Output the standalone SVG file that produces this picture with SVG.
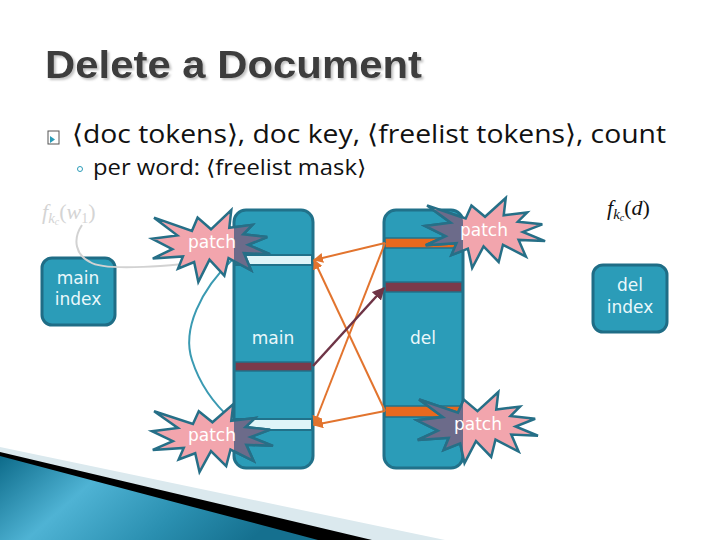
<svg xmlns="http://www.w3.org/2000/svg" xmlns:xlink="http://www.w3.org/1999/xlink" width="720" height="540" viewBox="0 0 720 540">
<style>
.col{fill:#2b9cb8;stroke:#21718a;stroke-width:3}
.box{fill:#2b9cb8;stroke:#1f6d86;stroke-width:3}
.lbl{font-family:"DejaVu Sans",sans-serif;font-size:17px;fill:#eaf8fb;text-anchor:middle}
.patch{font-family:"DejaVu Sans",sans-serif;font-size:17px;fill:#ffffff;text-anchor:middle}
.cyan{fill:#dff4f8;stroke:#21718a;stroke-width:2}
.maroon{fill:#7b3a4a;stroke:#21718a;stroke-width:1.5}
.orange{fill:#e8691e;stroke:#21718a;stroke-width:1.5}
.ol{stroke:#e2742e;stroke-width:2;fill:none;marker-end:url(#ao)}
.math{font-family:"Liberation Serif",serif;font-style:italic}
.body{font-family:"Open Sans","Liberation Sans",sans-serif;fill:#111}
</style>
<defs>
<path id="seal" vector-effect="non-scaling-stroke" d="M108,58 L145.22,0 L141.55,53.25 L183.8,44.57 L167.02,73.15 L210.97,81.37 L176.07,104.75 L216,132.9 L168.37,129.42 L181.45,180.95 L140.2,144.57 L132.47,197.37 L105.32,149.35 L84.85,216 L77.15,156.27 L47.62,176.17 L56.67,139.37 L1.35,145.87 L37.22,117.75 L0,86.15 L46.27,76.17 L3.7,22.95 L73.12,63.2 L83.52,22.95 Z"/>
<clipPath id="cm"><rect x="234" y="210" width="79" height="258" rx="12"/></clipPath>
<clipPath id="cd"><rect x="384" y="210" width="79" height="258" rx="12"/></clipPath>
<filter id="sh" x="-5%" y="-20%" width="110%" height="140%"><feDropShadow dx="2" dy="2" stdDeviation="0.8" flood-color="#9a9a9a" flood-opacity="0.6"/></filter>
<marker id="ao" viewBox="0 0 10 10" refX="9" refY="5" markerWidth="5" markerHeight="5" orient="auto"><path d="M0,0 L10,5 L0,10 Z" fill="#e2742e"/></marker>
<marker id="am" viewBox="0 0 10 10" refX="9" refY="5" markerWidth="5" markerHeight="5" orient="auto"><path d="M0,0 L10,5 L0,10 Z" fill="#6e3446"/></marker>
<marker id="at" viewBox="0 0 10 10" refX="9" refY="5" markerWidth="4" markerHeight="4" orient="auto"><path d="M0,0 L10,5 L0,10 Z" fill="#3a9ab2"/></marker>
<linearGradient id="tg" x1="0" y1="0" x2="1" y2="0.3">
<stop offset="0" stop-color="#0d6b8a"/>
<stop offset="0.35" stop-color="#4fb3d4"/>
<stop offset="0.7" stop-color="#2a8fb0"/>
<stop offset="1" stop-color="#15708f"/>
</linearGradient>
</defs>
<rect width="720" height="540" fill="#ffffff"/>
<g id="decor">
<polygon points="0,447 445,540 0,540" fill="#dbe9ee"/>
<polygon points="0,452 372,540 0,540" fill="#000000"/>
<polygon points="0,456 318,540 0,540" fill="url(#tg)"/>
</g>
<g id="title">
<text x="45" y="78" font-family="'Liberation Sans Narrow','Liberation Sans',sans-serif" font-weight="bold" font-size="38" fill="#3c3c3c" textLength="377" lengthAdjust="spacingAndGlyphs" filter="url(#sh)">Delete a Document</text>
</g>
<g id="bullets">
<rect x="48" y="131" width="11" height="13" fill="none" stroke="#555" stroke-width="1"/>
<polygon points="50,136 55,139.5 50,143" fill="#2b9cb8"/>
<text class="body" x="72" y="143" font-size="26" textLength="594" lengthAdjust="spacingAndGlyphs">⟨doc tokens⟩, doc key, ⟨freelist tokens⟩, count</text>
<circle cx="80" cy="169" r="2.5" fill="none" stroke="#2b9cb8" stroke-width="1"/>
<text class="body" x="93" y="175" font-size="21" textLength="273" lengthAdjust="spacingAndGlyphs">per word: ⟨freelist mask⟩</text>
</g>
<g id="fw1" fill="#d4d4d4">
<text class="math" x="42" y="219" font-size="22">f<tspan font-size="15" dy="4">k</tspan><tspan font-size="10" dy="2">c</tspan><tspan font-size="22" dy="-6" font-style="normal">(</tspan>w<tspan font-size="14" dy="4" font-style="normal">1</tspan><tspan font-size="22" dy="-4" font-style="normal">)</tspan></text>
</g>
<g id="fd" fill="#111">
<text class="math" x="607" y="215" font-size="22">f<tspan font-size="15" dy="4">k</tspan><tspan font-size="10" dy="2">c</tspan><tspan font-size="22" dy="-6" font-style="normal">(</tspan>d<tspan font-size="22" font-style="normal">)</tspan></text>
</g>
<g id="main-index">
<rect class="box" x="42" y="258" width="73" height="67" rx="10"/>
<text class="lbl" x="78" y="284">main</text>
<text class="lbl" x="78" y="305">index</text>
</g>
<g id="del-index">
<rect class="box" x="593" y="265" width="74" height="67" rx="10"/>
<text class="lbl" x="630" y="291">del</text>
<text class="lbl" x="630" y="313">index</text>
</g>
<g id="main">
<rect class="col" x="234" y="210" width="79" height="258" rx="12"/>
<rect class="cyan" x="235" y="255" width="77" height="10"/>
<rect class="maroon" x="235" y="362" width="77" height="9"/>
<rect class="cyan" x="235" y="419" width="77" height="11"/>
<text class="lbl" x="273" y="344">main</text>
</g>
<g id="del">
<rect class="col" x="384" y="210" width="79" height="258" rx="12"/>
<rect class="orange" x="385" y="238" width="77" height="10"/>
<rect class="maroon" x="385" y="282" width="77" height="10"/>
<rect class="orange" x="385" y="406" width="77" height="11"/>
<text class="lbl" x="423" y="344">del</text>
</g>
<g id="connectors">
<path d="M82,225 C72,240 76,255 90,262 C105,272 170,266 232,259" fill="none" stroke="#d2d2d2" stroke-width="2"/>
<path d="M233,259 C200,290 182,330 192,360 C200,385 215,405 232,420" fill="none" stroke="#3a9ab2" stroke-width="2" marker-end="url(#at)"/>
<line class="ol" x1="385" y1="243" x2="314" y2="260"/>
<line class="ol" x1="385" y1="243" x2="314" y2="425"/>
<line class="ol" x1="385" y1="411" x2="314" y2="425"/>
<line class="ol" x1="385" y1="411" x2="314" y2="260"/>
<line x1="313" y1="366" x2="384" y2="288" stroke="#6e3446" stroke-width="2.5" marker-end="url(#am)"/>
</g>
<g id="patch-tl">
<use href="#seal" transform="translate(152,210) scale(0.546,0.333)" fill="#f2a5ad" stroke="#266f87" stroke-width="2.5"/>
<g clip-path="url(#cm)"><use href="#seal" transform="translate(152,210) scale(0.546,0.333)" fill="#6c6b8a" stroke="#266f87" stroke-width="2.5"/></g>
<text class="patch" x="212" y="248">patch</text>
</g>
<g id="patch-tr">
<use href="#seal" transform="translate(425,198) scale(0.556,0.324)" fill="#f2a5ad" stroke="#266f87" stroke-width="2.5"/>
<g clip-path="url(#cd)"><use href="#seal" transform="translate(425,198) scale(0.556,0.324)" fill="#6c6b8a" stroke="#266f87" stroke-width="2.5"/></g>
<text class="patch" x="484" y="236">patch</text>
</g>
<g id="patch-bl">
<use href="#seal" transform="translate(152,404) scale(0.560,0.315)" fill="#f2a5ad" stroke="#266f87" stroke-width="2.5"/>
<g clip-path="url(#cm)"><use href="#seal" transform="translate(152,404) scale(0.560,0.315)" fill="#6c6b8a" stroke="#266f87" stroke-width="2.5"/></g>
<text class="patch" x="212" y="441">patch</text>
</g>
<g id="patch-br">
<use href="#seal" transform="translate(417,392) scale(0.560,0.329)" fill="#f2a5ad" stroke="#266f87" stroke-width="2.5"/>
<g clip-path="url(#cd)"><use href="#seal" transform="translate(417,392) scale(0.560,0.329)" fill="#6c6b8a" stroke="#266f87" stroke-width="2.5"/></g>
<text class="patch" x="478" y="430">patch</text>
</g>
</svg>
